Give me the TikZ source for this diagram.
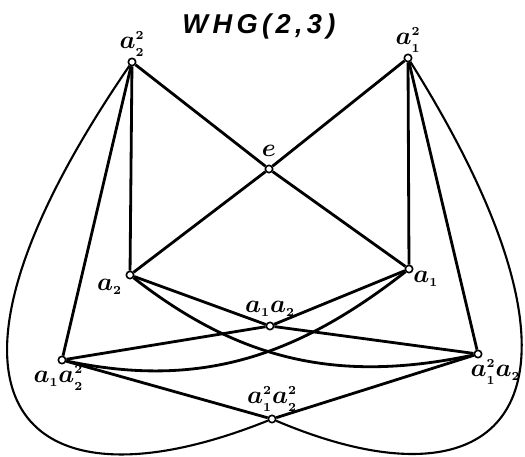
\documentclass[tikz,border=0pt]{standalone}
\usepackage{amsmath}
\usepackage{fontspec}
\newfontfamily\titlefont[LetterSpace=16]{Liberation Sans}
\usetikzlibrary{positioning}
\newcommand{\ix}[1]{{\scriptscriptstyle #1}}
\begin{document}
\begin{tikzpicture}[x=0.02cm,y=-0.02cm,
  vertex/.style={circle,draw,fill=white,line width=0.9pt,inner sep=0pt,minimum size=4.2pt},
  lbl/.style={inner sep=0.5pt,font=\fontsize{15}{17}\selectfont\mathversion{bold}},
  link/.style={line width=1.6pt},
  outer/.style={line width=1.2pt}]
\useasboundingbox (0,0) rectangle (525,457);
\node[font=\titlefont\bfseries\itshape\fontsize{15.5}{17}\selectfont] (title) at (259,26) {WHG(2,3)};
\node[vertex] (a22) at (132,62) {};
\node[vertex] (a12) at (408,58) {};
\node[vertex] (e) at (269,169) {};
\node[vertex] (a2) at (130,275) {};
\node[vertex] (a1) at (409,269) {};
\node[vertex] (a1a2) at (270,326) {};
\node[vertex] (a1a22) at (62,360) {};
\node[vertex] (a12a2) at (478,354) {};
\node[vertex] (a12a22) at (272,419) {};
\node[lbl,above=0pt of a22] (la22) {$a_{\ix2}^{\ix2}$};
\node[lbl,above=0pt of a12] (la12) {$a_{\ix1}^{\ix2}$};
\node[lbl,above=4pt of e] (le) {$e$};
\node[lbl,below left=0pt and 2pt of a2] (la2) {$a_{\ix2}$};
\node[lbl,below right=-1pt and 0pt of a1] (la1) {$a_{\ix1}$};
\node[lbl,above=2pt of a1a2] (la1a2) {$a_{\ix1}a_{\ix2}$};
\node[lbl,below=0pt of a1a22,xshift=-2pt] (la1a22) {$a_{\ix1}a_{\ix2}^{\ix2}$};
\node[lbl,below=0pt of a12a2,xshift=10pt] (la12a2) {$a_{\ix1}^{\ix2}a_{\ix2}$};
\node[lbl,above=1pt of a12a22] (la12a22) {$a_{\ix1}^{\ix2}a_{\ix2}^{\ix2}$};
\draw[link] (a22) -- (e) -- (a1);
\draw[link] (a12) -- (e) -- (a2);
\draw[link] (a22) -- (a2) -- (a1a2) -- (a1) -- (a12);
\draw[link] (a22) -- (a1a22) -- (a1a2) -- (a12a2) -- (a12);
\draw[link] (a1a22) -- (a12a22) -- (a12a2);
\draw[link] (a2) to[out=-38,in=192] (a12a2);
\draw[link] (a1) to[out=218,in=-12] (a1a22);
\draw[outer] (a22) .. controls (-100,400) and (20,520) .. (a12a22);
\draw[outer] (a12) .. controls (620,396) and (510,520) .. (a12a22);
\end{tikzpicture}
\end{document}
